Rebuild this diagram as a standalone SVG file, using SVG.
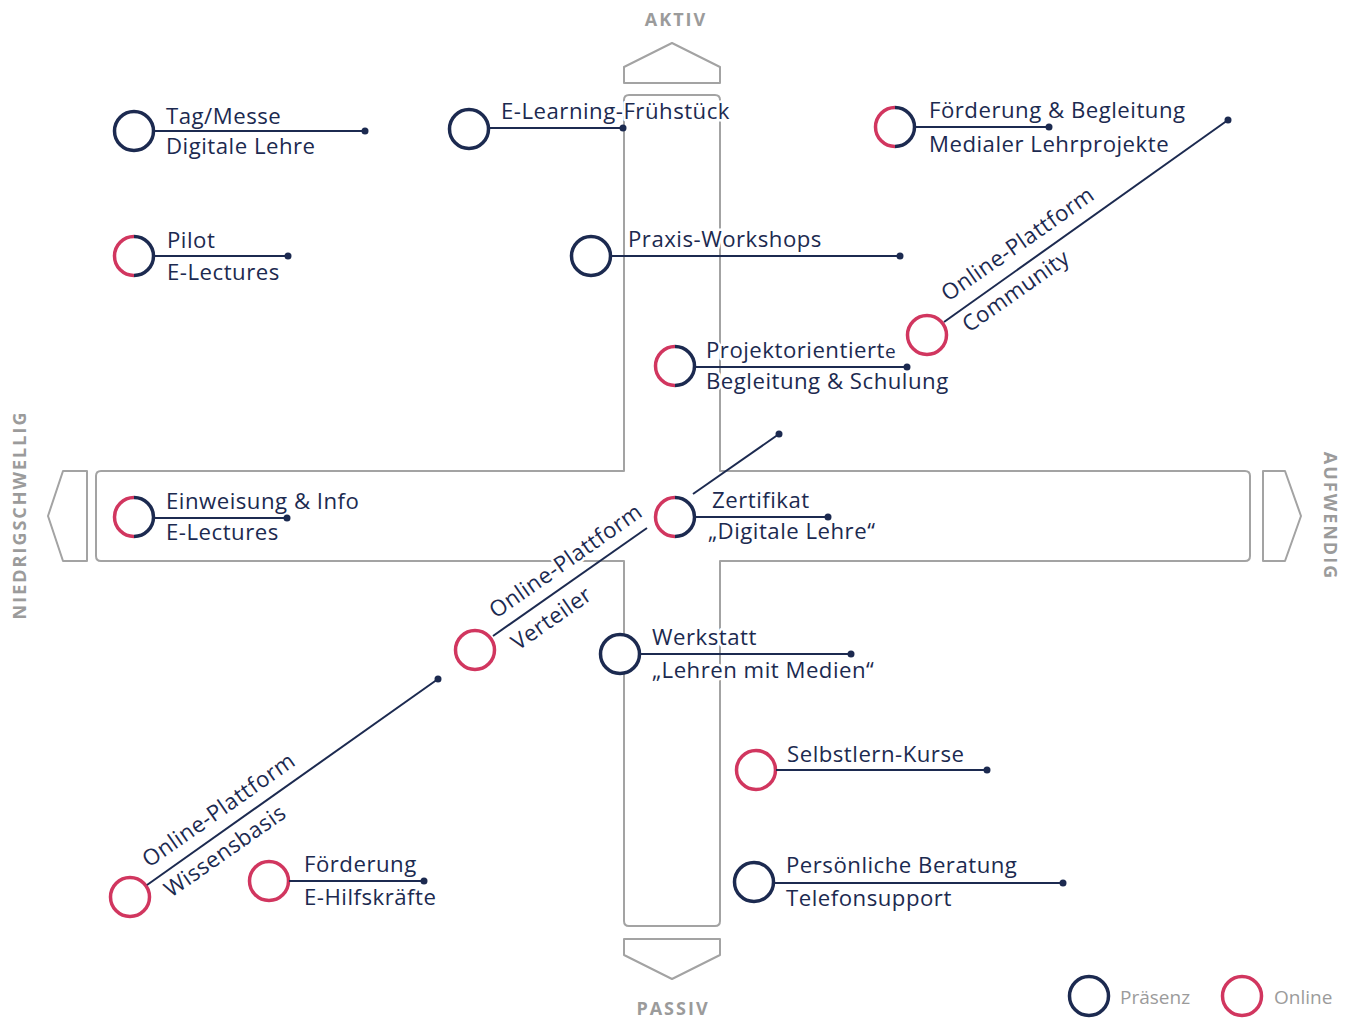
<svg xmlns="http://www.w3.org/2000/svg" width="1350" height="1018" viewBox="0 0 1350 1018">
<style>
.t{font-family:"Open Sans","Noto Sans",sans-serif;font-size:22.2px;fill:#1c2a50;letter-spacing:0.5px;stroke:#fff;stroke-width:5px;paint-order:stroke;stroke-linejoin:round}
.ax{font-family:"Open Sans","Noto Sans",sans-serif;font-weight:700;font-size:18px;fill:#9b9b9b;letter-spacing:2px;text-anchor:middle}
.lg{font-family:"Open Sans","Noto Sans",sans-serif;font-size:19px;fill:#9b9b9b}
.nv{fill:#fff;stroke:#1c2a50;stroke-width:3.5}
.pk{fill:#fff;stroke:#d1365f;stroke-width:3.5}
.an{fill:none;stroke:#1c2a50;stroke-width:3.5}
.ap{fill:none;stroke:#d1365f;stroke-width:3.5}
.ln{stroke:#1c2a50;stroke-width:2;fill:none}
.dot{fill:#1c2a50}
.frame{fill:none;stroke:#a3a3a3;stroke-width:2;stroke-linejoin:round}
</style>
<defs>
<g id="split">
<circle r="19.5" fill="#fff"/>
<path class="ap" d="M0,-19.5 A19.5,19.5 0 0 0 0,19.5"/>
<path class="an" d="M0,-19.5 A19.5,19.5 0 0 1 0,19.5"/>
</g>
</defs>
<rect width="1350" height="1018" fill="#fff"/>
<g id="frame">
<path class="frame" d="M624,471 L624,100 Q624,95 629,95 L715,95 Q720,95 720,100 L720,471 L1245,471 Q1250,471 1250,476 L1250,556 Q1250,561 1245,561 L720,561 L720,921 Q720,926 715,926 L629,926 Q624,926 624,921 L624,561 L101,561 Q96,561 96,556 L96,476 Q96,471 101,471 Z"/>
<path class="frame" d="M624,83 L624,67 L672,43 L720,67 L720,83 Z"/>
<path class="frame" d="M624,939 L720,939 L720,955 L672,979 L624,955 Z"/>
<path class="frame" d="M87,471 L87,561 L63,561 L48,516 L63,471 Z"/>
<path class="frame" d="M1263,471 L1263,561 L1285,561 L1301,516 L1285,471 Z"/>
<text class="ax" x="676" y="26">AKTIV</text>
<text class="ax" x="673" y="1015">PASSIV</text>
<text class="ax" transform="translate(26,515) rotate(-90)">NIEDRIGSCHWELLIG</text>
<text class="ax" transform="translate(1324,516) rotate(90)">AUFWENDIG</text>
</g>
<g id="legend">
<circle class="nv" cx="1089" cy="996" r="19.5"/>
<text class="lg" x="1120" y="1004">Präsenz</text>
<circle class="pk" cx="1242" cy="996" r="19.5"/>
<text class="lg" x="1274" y="1004">Online</text>
</g>
<g id="n-tagmesse">
<circle class="nv" cx="134" cy="131" r="19.5"/>
<text class="t" x="166" y="124">Tag/Messe</text>
<text class="t" x="166" y="154">Digitale Lehre</text>
</g>
<g id="n-elearning">
<circle class="nv" cx="469" cy="129" r="19.5"/>
<text class="t" x="501" y="119">E-Learning-Frühstück</text>
</g>
<g id="n-foerderung-begleitung">
<use href="#split" x="895" y="127"/>
<text class="t" x="929" y="118">Förderung &amp; Begleitung</text>
<text class="t" x="929" y="152">Medialer Lehrprojekte</text>
</g>
<g id="n-pilot">
<use href="#split" x="134" y="256"/>
<text class="t" x="167" y="248">Pilot</text>
<text class="t" x="167" y="280">E-Lectures</text>
</g>
<g id="n-praxis">
<circle class="nv" cx="591" cy="256" r="19.5"/>
<text class="t" x="628" y="247">Praxis-Workshops</text>
</g>
<g id="n-community">
<circle class="pk" cx="927" cy="335" r="19.5"/>
<text class="t" transform="translate(948,302) rotate(-35)">Online-Plattform</text>
<text class="t" transform="translate(969,333) rotate(-35)">Community</text>
</g>
<g id="n-projekt">
<use href="#split" x="675" y="366"/>
<text class="t" x="706" y="358">Projektorientiert<tspan font-size="19">e</tspan></text>
<text class="t" x="706" y="389">Begleitung &amp; Schulung</text>
</g>
<g id="n-einweisung">
<use href="#split" x="134" y="517"/>
<text class="t" x="166" y="509">Einweisung &amp; Info</text>
<text class="t" x="166" y="540">E-Lectures</text>
</g>
<g id="n-zertifikat">
<use href="#split" x="675" y="517"/>
<text class="t" x="712" y="508">Zertifikat</text>
<text class="t" x="708" y="539">„Digitale Lehre“</text>
</g>
<g id="n-verteiler">
<circle class="pk" cx="475" cy="650" r="19.5"/>
<text class="t" transform="translate(496,619) rotate(-35)">Online-Plattform</text>
<text class="t" transform="translate(518,651) rotate(-35)">Verteiler</text>
</g>
<g id="n-werkstatt">
<circle class="nv" cx="620" cy="654" r="19.5"/>
<text class="t" x="652" y="645">Werkstatt</text>
<text class="t" x="652" y="678">„Lehren mit Medien“</text>
</g>
<g id="n-selbstlern">
<circle class="pk" cx="756" cy="770" r="19.5"/>
<text class="t" x="787" y="762">Selbstlern-Kurse</text>
</g>
<g id="n-wissensbasis">
<circle class="pk" cx="130" cy="897" r="19.5"/>
<text class="t" transform="translate(149,868) rotate(-35)">Online-Plattform</text>
<text class="t" transform="translate(171,898) rotate(-35)">Wissensbasis</text>
</g>
<g id="n-ehilfskraefte">
<circle class="pk" cx="269" cy="881" r="19.5"/>
<text class="t" x="304" y="872">Förderung</text>
<text class="t" x="304" y="905">E-Hilfskräfte</text>
</g>
<g id="n-beratung">
<circle class="nv" cx="754" cy="882" r="19.5"/>
<text class="t" x="786" y="873">Persönliche Beratung</text>
<text class="t" x="786" y="906">Telefonsupport</text>
</g>
<g id="connectors">
<path class="ln" d="M154,131 H365"/><circle class="dot" cx="365" cy="131" r="3.5"/>
<path class="ln" d="M489,128 H623"/><circle class="dot" cx="623" cy="128" r="3.5"/>
<path class="ln" d="M915,127 H1049"/><circle class="dot" cx="1049" cy="127" r="3.5"/>
<path class="ln" d="M154,256 H288"/><circle class="dot" cx="288" cy="256" r="3.5"/>
<path class="ln" d="M611,256 H900"/><circle class="dot" cx="900" cy="256" r="3.5"/>
<path class="ln" d="M695,367 H907"/><circle class="dot" cx="907" cy="367" r="3.5"/>
<path class="ln" d="M154,518 H287"/><circle class="dot" cx="287" cy="518" r="3.5"/>
<path class="ln" d="M695,517 H828"/><circle class="dot" cx="828" cy="517" r="3.5"/>
<path class="ln" d="M640,654 H851"/><circle class="dot" cx="851" cy="654" r="3.5"/>
<path class="ln" d="M776,770 H987"/><circle class="dot" cx="987" cy="770" r="3.5"/>
<path class="ln" d="M289,881 H424"/><circle class="dot" cx="424" cy="881" r="3.5"/>
<path class="ln" d="M774,883 H1063"/><circle class="dot" cx="1063" cy="883" r="3.5"/>
<path class="ln" d="M944,322 L1228,120"/><circle class="dot" cx="1228" cy="120" r="3.5"/>
<path class="ln" d="M693,494 L779,434"/><circle class="dot" cx="779" cy="434" r="3.5"/>
<path class="ln" d="M493,636 L647,528"/>
<path class="ln" d="M147,885 L438,679"/><circle class="dot" cx="438" cy="679" r="3.5"/>
</g>
</svg>
